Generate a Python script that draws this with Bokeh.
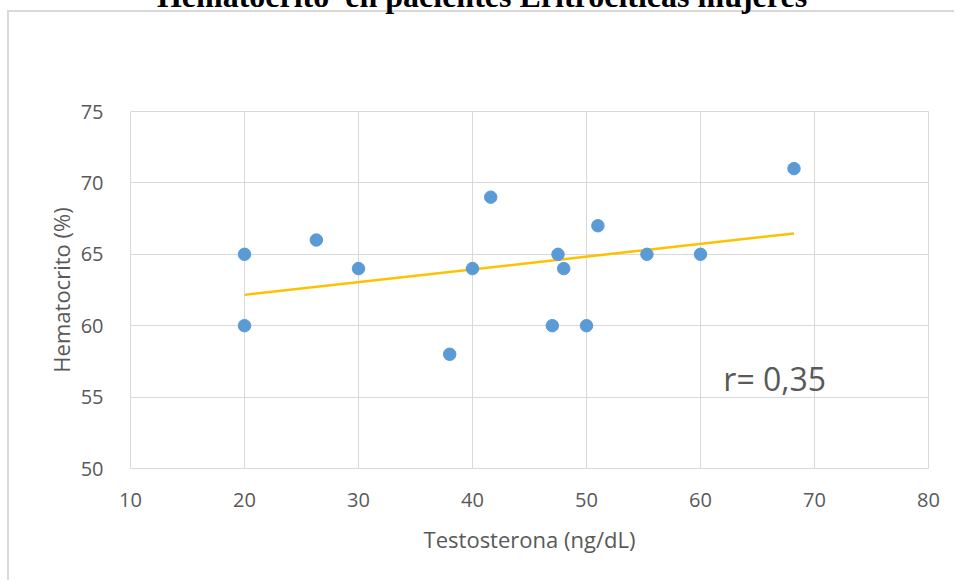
import numpy as np
from bokeh.plotting import figure
from bokeh.models import Label, FixedTicker, Range1d, Div
from bokeh.layouts import column
from bokeh.embed import file_html
from bokeh.resources import INLINE

# Data
testosterona = [20, 20, 26.3, 30, 38, 40, 41.6, 47, 47.5, 48, 50, 51, 55.3, 60, 68.2]
hematocrito = [65, 60, 66, 64, 58, 64, 69, 60, 65, 64, 60, 67, 65, 65, 71]
x_ticks = [10, 20, 30, 40, 50, 60, 70, 80]
y_ticks = [50, 55, 60, 65, 70, 75]
title_text = "Hematocrito  en pacientes Eritrocíticas mujeres"
x_label = "Testosterona (ng/dL)"
y_label = "Hematocrito (%)"
r_text = "r= 0,35"

title_div = Div(
    text=('<div style="position:absolute; left:7px; top:10px; width:947px; height:570px; '
          'border-left:2px solid #d9d9d9; border-top:2px solid #d9d9d9; pointer-events:none;"></div>'
          '<div style="position:relative; top:-20px; left:4px; width:956px; text-align:center; '
          'font-family:\'Liberation Serif\'; font-weight:bold; font-size:32px; line-height:32px; '
          'white-space:pre; color:black;">' + title_text + '</div>'),
    width=956, height=10, margin=0, styles={"overflow": "visible", "z-index": "10"})

p = figure(width=956, height=572, output_backend="svg", toolbar_location=None,
           x_range=Range1d(10, 80), y_range=Range1d(50, 75),
           min_border_left=130, min_border_right=28, min_border_top=101, min_border_bottom=114)
p.margin = 0
p.background_fill_color = None
p.border_fill_color = None
p.outline_line_color = "#d9d9d9"
p.outline_line_width = 1

for ax in (p.xaxis, p.yaxis):
    ax.axis_line_color = None
    ax.major_tick_line_color = None
    ax.minor_tick_line_color = None
    ax.major_label_text_font = "Open Sans"
    ax.major_label_text_font_size = "20px"
    ax.major_label_text_color = "#595959"
    ax.axis_label_text_font = "Open Sans"
    ax.axis_label_text_font_size = "22px"
    ax.axis_label_text_font_style = "normal"
    ax.axis_label_text_color = "#595959"

p.xaxis.ticker = FixedTicker(ticks=x_ticks)
p.yaxis.ticker = FixedTicker(ticks=y_ticks)
p.xaxis.axis_label = x_label
p.yaxis.axis_label = y_label
p.xaxis.major_label_standoff = 18
p.yaxis.major_label_standoff = 21
p.xaxis.axis_label_standoff = 14
p.yaxis.axis_label_standoff = 2

p.xgrid.grid_line_color = "#d9d9d9"
p.ygrid.grid_line_color = "#d9d9d9"
p.xgrid.grid_line_width = 1
p.ygrid.grid_line_width = 1

# linear trend
slope, intercept = np.polyfit(testosterona, hematocrito, 1)
xs = [min(testosterona), max(testosterona)]
ys = [slope * xv + intercept for xv in xs]
p.line(xs, ys, line_color="#ffc000", line_width=2.5)

p.scatter(testosterona, hematocrito, size=12.5, fill_color="#5b9bd5", line_color="#5b9bd5")

p.add_layout(Label(x=62, y=56.3, text=r_text, text_font="Open Sans",
                   text_font_size="32px", text_color="#595959", text_baseline="alphabetic"))

layout = column(title_div, p, spacing=0)

open("out.html", "w").write(file_html(layout, INLINE))
